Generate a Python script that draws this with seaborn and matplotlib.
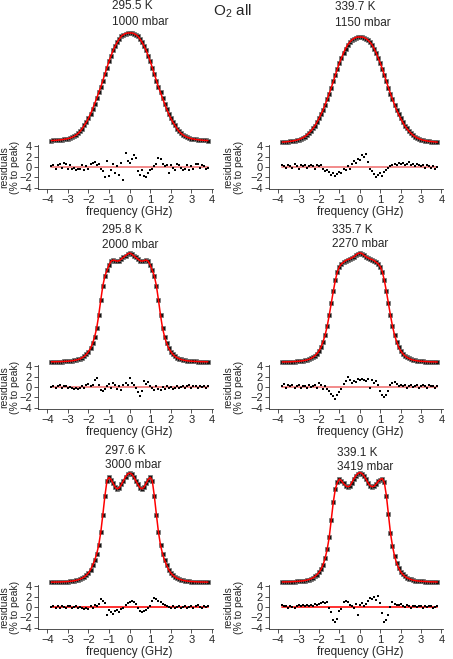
import numpy as np
import pandas as pd
import matplotlib
matplotlib.use("Agg")
import matplotlib.pyplot as plt
import seaborn as sns

# frequency grid (GHz), -3.8 ... 3.8 in 0.1 steps
freq = np.round(np.arange(-38, 39) / 10, 1)

temps = ["295.5 K", "339.7 K", "295.8 K", "335.7 K", "297.6 K", "339.1 K"]
pressures = ["1000 mbar", "1150 mbar", "2000 mbar", "2270 mbar", "3000 mbar", "3419 mbar"]

# measured spectra, % of peak
spec_1000 = [0.4, 0.5, 0.6, 0.8, 1.0, 1.2, 1.5, 1.8, 2.2,
             2.7, 3.4, 4.3, 5.5, 7.0, 9.0, 11.5, 14.5, 17.5, 21,
             25, 29.5, 34.5, 39.5, 45, 50, 56, 62, 68, 74,
             79, 84, 88, 91.5, 94.5, 97, 98.5, 99.5, 100, 100,
             100, 99.5, 98.5, 97, 94.5, 91.5, 88, 84, 79, 74,
             68, 62, 56, 50, 45, 39.5, 34.5, 29.5, 25, 21,
             17.5, 14.5, 11.5, 9.0, 7.0, 5.5, 4.3, 3.4, 2.7, 2.2,
             1.8, 1.5, 1.2, 1.0, 0.8, 0.6, 0.5, 0.4]
spec_1150 = [0.6, 0.7, 0.9, 1.1, 1.3, 1.6, 2.0, 2.4, 3.0,
             3.7, 4.6, 5.8, 7.2, 9.0, 11, 13.5, 16, 19.5, 23,
             27, 31, 36, 41, 46.5, 52, 58, 64, 70, 75.5,
             80, 85, 89, 92.5, 95, 97, 98.5, 99.5, 100, 100,
             100, 99.5, 98.5, 97, 95, 92.5, 89, 85, 80, 75.5,
             70, 64, 58, 52, 46.5, 41, 36, 31, 27, 23,
             19.5, 16, 13.5, 11, 9.0, 7.2, 5.8, 4.6, 3.7, 3.0,
             2.4, 2.0, 1.6, 1.3, 1.1, 0.9, 0.7, 0.6]
spec_2000 = [0.2, 0.2, 0.25, 0.3, 0.35, 0.4, 0.5, 0.6, 0.7,
             0.9, 1.1, 1.4, 1.8, 2.3, 3.0, 4.0, 5.2, 7.0, 9.5,
             12.5, 17, 23, 31, 43, 57, 70, 79, 84, 89,
             92.5, 93.5, 93, 92.5, 93, 94.5, 96, 97.5, 99, 100,
             99, 97.5, 96, 94.5, 93, 92.5, 93, 93.5, 92.5, 89,
             84, 79, 70, 57, 43, 31, 23, 17, 12.5, 9.5,
             7.0, 5.2, 4.0, 3.0, 2.3, 1.8, 1.4, 1.1, 0.9, 0.7,
             0.6, 0.5, 0.4, 0.35, 0.3, 0.25, 0.2, 0.2]
spec_2270 = [0.3, 0.35, 0.4, 0.45, 0.5, 0.6, 0.7, 0.8, 0.9,
             1.1, 1.4, 1.7, 2.1, 2.7, 3.5, 4.6, 6.0, 8.0, 10.5,
             14, 19, 25, 33, 43, 54, 65, 75, 83, 87.5,
             90, 91.5, 93, 94, 94.5, 95.5, 96.5, 98, 99.5, 100,
             99.5, 98, 96.5, 95.5, 94.5, 94, 93, 91.5, 90, 87.5,
             83, 75, 65, 54, 43, 33, 25, 19, 14, 10.5,
             8.0, 6.0, 4.6, 3.5, 2.7, 2.1, 1.7, 1.4, 1.1, 0.9,
             0.8, 0.7, 0.6, 0.5, 0.45, 0.4, 0.35, 0.3]
spec_3000 = [0.2, 0.2, 0.25, 0.3, 0.35, 0.4, 0.5, 0.6, 0.7,
             0.9, 1.1, 1.4, 1.8, 2.3, 3.0, 3.8, 5.0, 6.5, 8.5,
             11.5, 15.5, 20, 26, 34, 46, 62, 79, 93, 96,
             94, 90.5, 87, 85.5, 86.5, 89.5, 93, 96.5, 99, 100,
             99, 96.5, 93, 89.5, 86.5, 85.5, 87, 90.5, 94, 96,
             93, 79, 62, 46, 34, 26, 20, 15.5, 11.5, 8.5,
             6.5, 5.0, 3.8, 3.0, 2.3, 1.8, 1.4, 1.1, 0.9, 0.7,
             0.6, 0.5, 0.4, 0.35, 0.3, 0.25, 0.2, 0.2]
spec_3419 = [0.3, 0.35, 0.4, 0.45, 0.5, 0.6, 0.7, 0.8, 0.9,
             1.1, 1.3, 1.6, 2.0, 2.5, 3.2, 4.0, 5.3, 7.0, 9.0,
             12, 16, 22, 30, 41, 57, 73, 85, 91, 94,
             92.5, 90, 88, 87, 87.5, 90.5, 94, 97, 99, 100,
             99, 97, 94, 90.5, 88, 87, 87.5, 89.5, 92, 93.5,
             94.5, 91, 79, 62, 45, 33, 24, 17.5, 13, 9.5,
             7.2, 5.5, 4.2, 3.3, 2.6, 2.0, 1.6, 1.3, 1.1, 0.9,
             0.8, 0.7, 0.6, 0.5, 0.45, 0.4, 0.35, 0.3]

# residuals, % to peak
res_1000 = [0.2, 0.4, -0.3, 0.3, 0.6, -0.2, 0.7, 0.5, -0.3,
            0.4, -0.4, -0.2, -0.5, -0.3, -0.4, 0.3, -0.6, 0.2, -0.4,
            0.5, 0.8, 1.0, 0.3, 0.6, -0.3, -0.8, -1.9, 1.2, -1.8,
            -0.6, 0.5, -1.2, 0.2, -1.5, 0.8, -2.4, 2.6, 1.2, 0.8,
            1.6, 2.3, 1.8, -0.8, -1.5, -0.6, -1.8, -2.0, -1.2, -0.6,
            -0.4, 0.2, 0.5, 1.8, 1.5, 0.6, 0.1, 0.4, -1.2, 0.3,
            -0.2, -0.5, 0.5, 0.3, -0.2, -0.6, -0.3, 0.4, -0.5, 0.2,
            -0.3, 0.6, 0.5, -0.2, 0.4, 0.1, -0.3, -0.2]
res_1150 = [0.3, 0.1, -0.2, 0.4, 0.2, -0.1, 0.5, 0.2, -0.3,
            0.3, 0.1, 0.4, -0.2, 0.2, 0.3, 0.1, -0.3, 0.4, 0.2,
            0.3, -0.4, -0.8, -0.5, -1.0, -1.6, -1.2, -1.8, -1.4, -0.9,
            -1.2, -0.4, -0.6, 0.2, -0.3, 0.5, 1.2, 0.8, 1.6, 1.3,
            2.2, 1.9, 2.4, 1.0, -0.4, -0.8, -1.3, -2.0, -1.5, -1.1,
            -1.8, -1.0, -0.5, -0.2, 0.1, 0.4, 0.6, 0.3, 0.7, 0.5,
            0.8, 0.4, 0.6, 0.9, 0.3, 0.5, 0.2, 0.6, 0.3, 0.1,
            0.4, -0.1, 0.3, 0.2, -0.2, 0.1, -0.3, 0.0]
res_2000 = [0.0, 0.2, -0.1, 0.1, 0.3, -0.2, 0.2, 0.1, -0.1,
            0.0, -0.2, -0.3, -0.1, -0.3, -0.2, 0.1, -0.2, 0.3, 0.6,
            0.2, 0.4, 1.4, 1.8, 0.3, -0.5, -0.7, -0.3, 0.2, 0.5,
            -0.2, 0.7, 0.4, -0.3, 0.2, -0.6, 0.3, 0.8, 0.4, 1.8,
            0.8, 0.3, -0.2, -0.9, -1.8, -0.8, 1.2, 0.6, 1.0, 0.2,
            -0.2, -0.5, 0.2, -0.4, -0.6, 0.0, -0.3, 0.1, -0.2, 0.0,
            -0.4, -0.1, 0.2, -0.1, 0.0, 0.2, -0.2, 0.1, 0.3, -0.1,
            0.1, 0.2, -0.1, 0.2, 0.0, 0.1, -0.1, 0.2]
res_2270 = [0.2, 0.5, -0.1, 0.3, 0.1, 0.4, -0.2, 0.2, 0.3,
            -0.1, 0.2, 0.1, -0.2, 0.3, 0.0, 0.2, 0.4, -0.2, 0.7,
            0.3, -0.4, 0.2, -0.3, -0.7, -1.3, -1.8, -2.2, -1.6, -1.0,
            -0.3, 0.6, 1.2, 2.0, 1.4, 0.8, 1.2, 1.0, 1.5, 1.3,
            1.6, 1.4, 1.1, 1.5, -0.2, 1.3, 0.8, 1.2, 0.4, -0.8,
            -1.5, -2.0, -1.6, -0.8, 0.3, 0.8, 1.0, 0.6, 0.2, 0.4,
            0.1, 0.3, -0.1, 0.2, 0.4, 0.0, 0.2, 0.3, -0.1, 0.2,
            0.4, 0.1, -0.2, 0.3, 0.1, 0.2, -0.1, 0.1]
res_3000 = [0.0, 0.2, -0.1, 0.1, -0.2, 0.1, 0.0, -0.2, 0.1,
            0.2, -0.1, 0.0, 0.1, -0.2, 0.0, -0.1, -0.3, -0.1, -0.4,
            0.2, -0.2, 0.3, 0.2, 0.6, 1.6, 1.2, 0.8, -1.5, -0.6,
            -1.0, -1.3, -0.8, -0.5, -0.9, -0.3, -0.2, 0.3, 0.7, 1.0,
            1.2, 0.9, 0.6, -0.2, -0.7, -1.0, -0.8, -0.5, -0.2, 0.2,
            1.1, 1.8, 1.6, 1.2, 1.0, 0.6, 0.3, 0.1, 0.0, -0.2,
            0.1, -0.1, 0.0, 0.2, -0.1, 0.0, 0.1, -0.2, 0.0, 0.1,
            -0.1, 0.2, 0.3, 0.0, -0.1, 0.1, 0.0, 0.1]
res_3419 = [0.3, 0.1, 0.2, -0.1, 0.1, 0.0, -0.2, 0.1, 0.3,
            0.2, 0.4, 0.1, 0.3, 0.2, 0.4, 0.2, 0.5, 0.3, 0.6,
            0.8, 1.0, 0.7, 0.9, -0.1, -1.0, -2.5, -2.8, -2.2, -0.8,
            -0.3, 0.9, 1.1, 1.0, 0.3, 0.1, -0.2, 0.5, -1.5, 0.4,
            0.7, 0.2, 0.5, 1.2, 1.8, 1.6, 1.9, 1.3, 2.1, 0.8,
            -1.2, -2.9, -2.4, -1.6, 0.0, 0.9, 0.6, 0.4, 0.3, 0.5,
            0.2, 0.0, 0.3, 0.1, -0.1, 0.2, 0.1, 0.0, 0.2, 0.1,
            -0.1, 0.2, 0.0, 0.1, 0.2, -0.1, 0.0, 0.1]

spectra = [spec_1000, spec_1150, spec_2000, spec_2270, spec_3000, spec_3419]
residuals = [res_1000, res_1150, res_2000, res_2270, res_3000, res_3419]

sns.set_style("ticks")
plt.rcParams["font.family"] = ["Liberation Sans", "DejaVu Sans"]
plt.rcParams["mathtext.fontset"] = "custom"
plt.rcParams["mathtext.rm"] = "Liberation Sans"
plt.rcParams["mathtext.default"] = "rm"

W, H = 453, 659
fig = plt.figure(figsize=(W / 100, H / 100), dpi=100)

XLIM = (-4.45, 4.05)
cols = [(38, 175), (269, 173.5)]      # left px, width px
rows = [0, 220, 440]                  # row offsets px
ylab_px = [10, 234]                   # centre of the residual y-label, px
# label positions: left px, y of temperature, y of pressure (relative to row)
label_pos = [(112, 6, 22), (335, 7, 23.5), (102, 10, 25),
             (332, 10, 24.5), (105, 10.5, 25.5), (337, 12.5, 27)]
# px of 0 % and 100 % in each spectrum (relative to row)
level_px = [(141, 33), (142.7, 37), (142, 33), (142.3, 33), (142.3, 33), (142.3, 32.5)]
fit_colors = ["#f28a8a", "#f28a8a", "#f28a8a", "#f28a8a", "#ff3030", "#ff3030"]


def rect(left, top, w, h):
    return [left / W, 1 - (top + h) / H, w / W, h / H]


for i in range(6):
    r, c = divmod(i, 2)
    left, width = cols[c]
    off = rows[r]
    zero_frac = (0 - XLIM[0]) / (XLIM[1] - XLIM[0])

    # spectrum
    ax = fig.add_axes(rect(left, off + 28, width, 117))
    base, peak = level_px[i]
    k = (base - peak) / 100
    ax.set_ylim(-(145 - base) / k, 100 + (peak - 28) / k)
    ax.set_xlim(*XLIM)
    df = pd.DataFrame({"freq": freq, "signal": spectra[i]})
    sns.scatterplot(data=df, x="freq", y="signal", marker="s", s=7,
                    color="#151515", edgecolor="#777777", linewidth=0.5, ax=ax,
                    zorder=2)
    sns.lineplot(data=df, x="freq", y="signal", color="red", lw=1.1, ax=ax,
                 zorder=3)
    ax.axis("off")

    lx, ty, py = label_pos[i]
    fig.text(lx / W, 1 - (off + ty) / H, temps[i], ha="left", va="center", fontsize=8.5)
    fig.text(lx / W, 1 - (off + py) / H, pressures[i], ha="left", va="center", fontsize=8.5)

    # residuals
    rx = fig.add_axes(rect(left, off + 145, width, 44))
    dr = pd.DataFrame({"freq": freq, "res": residuals[i], "fit": np.zeros_like(freq)})
    sns.lineplot(data=dr, x="freq", y="fit", color=fit_colors[i], lw=1.4,
                 ax=rx, zorder=1)
    sns.scatterplot(data=dr, x="freq", y="res", marker="s", s=3, color="black",
                    linewidth=0, ax=rx, zorder=2)
    rx.set_xlim(*XLIM)
    rx.set_ylim(-4.2, 4.2)
    rx.set_xticks(range(-4, 5))
    rx.set_yticks([-4, -2, 0, 2, 4])
    sns.despine(ax=rx)
    for s in ("left", "bottom"):
        rx.spines[s].set_linewidth(0.6)
        rx.spines[s].set_color("#333333")
    rx.tick_params(direction="out", length=3, width=0.6, labelsize=8, pad=1.5,
                   color="#333333")
    rx.set_xlabel("frequency (GHz)", fontsize=8.5)
    rx.xaxis.set_label_coords(zero_frac, -0.52)
    rx.xaxis.label.set_verticalalignment("center")
    rx.set_ylabel("residuals\n(% to peak)", fontsize=7.5, linespacing=1.1)
    rx.yaxis.set_label_coords((ylab_px[c] - left) / width, 0.5)
    rx.yaxis.label.set_verticalalignment("center")

fig.text(232 / W, 1 - 11 / H, "O$_2$ all", ha="center", va="center", fontsize=11)

fig.savefig("out.png", dpi=100)
